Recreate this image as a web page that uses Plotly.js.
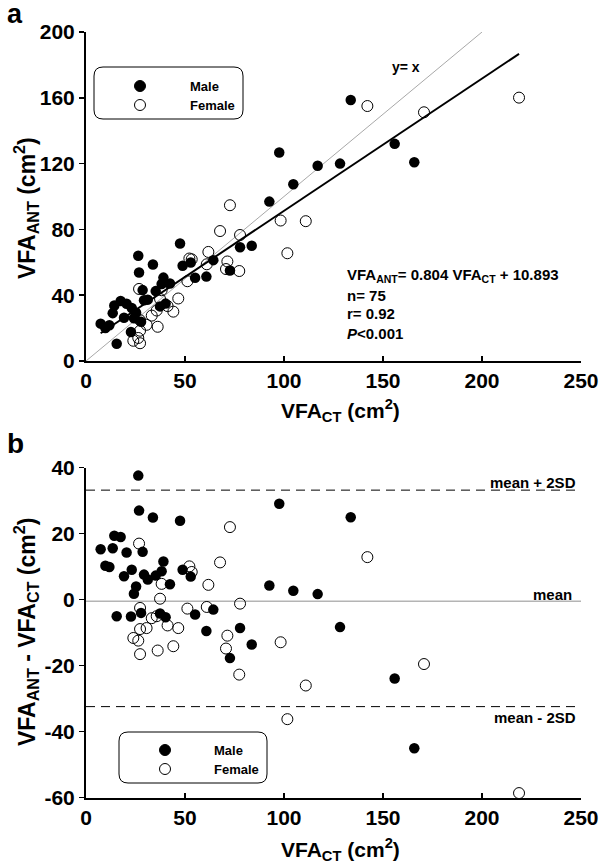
<!DOCTYPE html>
<html><head><meta charset="utf-8">
<script src="https://cdn.plot.ly/plotly-3.0.1.min.js"></script>
<style>html,body{margin:0;padding:0;background:#fff;} #chart{width:600px;height:865px;}</style>
</head><body><div id="chart"></div>
<script>
// ---- data ----
const ctMale = [26.4,26.8,33.8,47.5,7.4,14.3,17.5,13.5,20.5,28.6,9.8,11.8,19.2,23.1,29.3,31.2,35.2,38.2,39.1,42.4,48.8,52.9,25.3,24.2,15.5,22.7,27.8,37.4,40.2,55.1,64.3,60.8,77.8,83.7,72.7,92.6,97.6,104.7,117.0,133.7,128.3,155.9,165.8];
const antMale = [64.0,53.8,58.7,71.4,22.7,33.7,36.5,29.1,34.8,43.1,20.1,21.7,26.3,32.2,36.9,37.3,42.5,46.8,50.7,47.1,57.9,59.9,29.3,26.0,10.5,17.6,23.8,33.2,34.9,50.6,61.3,51.3,69.2,70.1,55.0,96.9,126.7,107.4,118.7,158.7,120.0,132.0,120.8];
const ctFemale = [26.8,72.7,52.2,53.4,67.7,38.2,61.8,37.4,27.3,51.2,61.0,77.8,33.2,35.7,27.3,30.6,41.2,46.6,23.9,26.4,27.3,36.2,44.1,71.4,70.7,77.4,98.3,101.7,111.0,142.1,170.7,218.7];
const antFemale = [43.8,94.7,62.3,61.8,79.0,43.0,66.3,37.7,24.8,48.5,58.8,76.6,27.6,30.7,18.4,22.0,33.4,38.0,12.3,14.0,10.8,20.8,30.0,60.5,55.9,54.7,85.4,65.5,85.0,155.0,151.2,160.1];
const slope = 0.804, intercept = 10.893, rValue = '0.92', pText = '0.001';
const identityRange = [0, 200];
const meanDiff = -0.5, upper2SD = 33.2, lower2SD = -32.4;
const xRange = [0, 250];
const meanLineX = [0, 252];
const legendLabels = ['Male', 'Female'];
const xTicks = [0,50,100,150,200,250];
const xTickText = ['0','50','100','150','200','250'];
const yTicksA = [0,40,80,120,160,200];
const yTickTextA = ['0','40','80','120','160','200'];
const yTicksB = [-60,-40,-20,0,20,40];
const yTickTextB = ['-60','-40','-20','0','20','40'];

// ---- derived ----
const diffMale = antMale.map((v,i)=> v - ctMale[i]);
const diffFemale = antFemale.map((v,i)=> v - ctFemale[i]);
const allCT = ctMale.concat(ctFemale);
const regX = [Math.min(...allCT), Math.max(...allCT)];
const regY = regX.map(x => slope*x + intercept);
const nTotal = allCT.length;

// ---- layout helpers ----
const W = 600, H = 865;
const px = v => v / W, py = v => 1 - v / H;
const FONT = 'Liberation Sans, Arial, sans-serif';
const TICKFONT = {family:FONT, size:21, color:'#000', weight:'bold'};

const mkS = 10;
const traces = [
  {x: identityRange, y: identityRange, xaxis:'x', yaxis:'y', mode:'lines', line:{color:'#a8a8a8', width:1}, hoverinfo:'skip'},
  {x: regX, y: regY, xaxis:'x', yaxis:'y', mode:'lines', line:{color:'#000', width:2}, hoverinfo:'skip'},
  {x: ctFemale, y: antFemale, xaxis:'x', yaxis:'y', mode:'markers', name: legendLabels[1], marker:{symbol:'circle-open', size:mkS+1, color:'#000', line:{width:1, color:'#000'}}, cliponaxis:false},
  {x: ctMale, y: antMale, xaxis:'x', yaxis:'y', mode:'markers', name: legendLabels[0], marker:{symbol:'circle', size:mkS+0.5, color:'#000'}, cliponaxis:false},
  {x: meanLineX, y: [meanDiff, meanDiff], xaxis:'x2', yaxis:'y2', mode:'lines', line:{color:'#b4b4b4', width:1.5}, hoverinfo:'skip', cliponaxis:false},
  {x: xRange, y: [upper2SD, upper2SD], xaxis:'x2', yaxis:'y2', mode:'lines', line:{color:'#000', width:1, dash:'9px,6px'}, hoverinfo:'skip'},
  {x: xRange, y: [lower2SD, lower2SD], xaxis:'x2', yaxis:'y2', mode:'lines', line:{color:'#000', width:1, dash:'9px,6px'}, hoverinfo:'skip'},
  {x: ctFemale, y: diffFemale, xaxis:'x2', yaxis:'y2', mode:'markers', marker:{symbol:'circle-open', size:mkS+1, color:'#000', line:{width:1, color:'#000'}}, cliponaxis:false},
  {x: ctMale, y: diffMale, xaxis:'x2', yaxis:'y2', mode:'markers', marker:{symbol:'circle', size:mkS+0.5, color:'#000'}, cliponaxis:false}
];

const axBase = {showline:true, linecolor:'#000', linewidth:2, showgrid:false, zeroline:false, tickfont:TICKFONT, tickcolor:'#000', tickwidth:1.5, ticklen:5, tickmode:'array', ticklabeloverflow:'allow'};
const xDomain = [px(86), px(581)];

function roundedBox(x0,y0,x1,y1,r){
  const rx = r/W, ry = r/H;
  const X0=px(x0), X1=px(x1), Y0=py(y0), Y1=py(y1);
  return `M ${X0+rx},${Y0} L ${X1-rx},${Y0} Q ${X1},${Y0} ${X1},${Y0-ry} L ${X1},${Y1+ry} Q ${X1},${Y1} ${X1-rx},${Y1} L ${X0+rx},${Y1} Q ${X0},${Y1} ${X0},${Y1+ry} L ${X0},${Y0-ry} Q ${X0},${Y0} ${X0+rx},${Y0} Z`;
}
function legendShapes(box, mx, my1, my2){
  return [
    {type:'path', xref:'paper', yref:'paper', path: roundedBox(box[0],box[1],box[2],box[3],9), line:{color:'#000', width:1}, fillcolor:'rgba(0,0,0,0)'},
    {type:'circle', xref:'paper', yref:'paper', xsizemode:'pixel', ysizemode:'pixel', xanchor:px(mx), yanchor:py(my1), x0:-5.5, x1:5.5, y0:-5.5, y1:5.5, fillcolor:'#000', line:{color:'#000', width:1}},
    {type:'circle', xref:'paper', yref:'paper', xsizemode:'pixel', ysizemode:'pixel', xanchor:px(mx), yanchor:py(my2), x0:-5.5, x1:5.5, y0:-5.5, y1:5.5, fillcolor:'rgba(0,0,0,0)', line:{color:'#000', width:1}}
  ];
}
function txt(text, x, y, size, xanchor, opts){
  return Object.assign({xref:'paper', yref:'paper', x:px(x), y:py(y), text:text, showarrow:false, xanchor:xanchor||'center', yanchor:'middle', font:{family:FONT, size:size, color:'#000', weight:'bold'}}, opts||{});
}

const layout = {
  width: W, height: H, margin:{l:0,r:0,t:0,b:0}, paper_bgcolor:'#fff', plot_bgcolor:'rgba(0,0,0,0)',
  showlegend:false, font:{family:FONT, color:'#000'},
  xaxis: Object.assign({}, axBase, {domain:xDomain, anchor:'y', range:xRange, tickvals:xTicks, ticktext:xTickText, ticks:'inside'}),
  yaxis: Object.assign({}, axBase, {domain:[py(361), py(32)], anchor:'x', range:[0,200], tickvals:yTicksA, ticktext:yTickTextA, ticks:'outside'}),
  xaxis2: Object.assign({}, axBase, {domain:xDomain, anchor:'y2', range:xRange, tickvals:xTicks, ticktext:xTickText, ticks:'inside'}),
  yaxis2: Object.assign({}, axBase, {domain:[py(797.7), py(467.7)], anchor:'x2', range:[-60,40], tickvals:yTicksB, ticktext:yTickTextB, ticks:'outside'}),
  shapes: [].concat(
    legendShapes([94,67,243,119], 140, 86, 105),
    legendShapes([119,732,267,783], 165, 750, 769)
  ),
  annotations: [
    txt('a', 15, 14, 27),
    txt('b', 15, 443, 28),
    txt('VFA<sub>ANT</sub> (cm<sup>2</sup>)', 26, 208, 23, 'center', {textangle:-90}),
    txt('VFA<sub>CT</sub> (cm<sup>2</sup>)', 340, 410, 21),
    txt('VFA<sub>ANT</sub> - VFA<sub>CT</sub> (cm<sup>2</sup>)', 26, 632, 23, 'center', {textangle:-90}),
    txt('VFA<sub>CT</sub> (cm<sup>2</sup>)', 340, 849, 21),
    txt(legendLabels[0], 188, 86, 13, 'left'),
    txt(legendLabels[1], 188, 105, 13, 'left'),
    txt(legendLabels[0], 212, 750, 13, 'left'),
    txt(legendLabels[1], 212, 769, 13, 'left'),
    txt('y= x', 406, 67, 14),
    txt('VFA<sub>ANT</sub>= ' + slope.toFixed(3) + ' VFA<sub>CT</sub> + ' + intercept.toFixed(3), 345, 275, 15, 'left'),
    txt('n= ' + nTotal, 345, 295, 15, 'left'),
    txt('r= ' + rValue, 345, 314, 15, 'left'),
    txt('<i>P</i>&lt;' + pText, 345, 333, 15, 'left'),
    txt('mean + 2SD', 578, 482, 15, 'right'),
    txt('mean', 574, 594, 15, 'right'),
    txt('mean - 2SD', 578, 717, 15, 'right')
  ]
};

Plotly.newPlot('chart', traces, layout, {displayModeBar:false, staticPlot:true});
</script>
</body></html>
